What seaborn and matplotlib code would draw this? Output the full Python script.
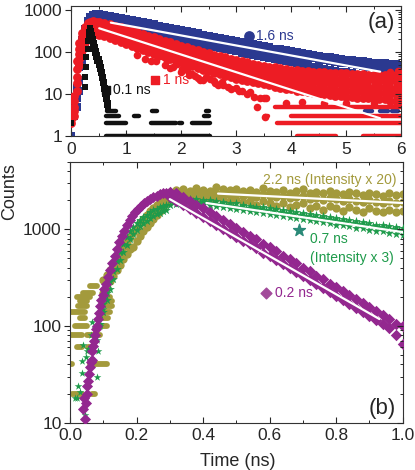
import numpy as np
import pandas as pd
import matplotlib
matplotlib.use("Agg")
import matplotlib.pyplot as plt
import matplotlib.ticker as mticker
import seaborn as sns

# === panel (a): decay traces, 0-6 ns ===
T_A = [0.0, 0.05, 0.1, 0.15, 0.2, 0.25, 0.3, 0.35, 0.4, 0.45, 0.5,
       0.6, 0.7, 0.8, 0.9, 1.0, 1.1, 1.2, 1.3, 1.4, 1.5,
       1.6, 1.7, 1.8, 1.9, 2.0, 2.1, 2.2, 2.3, 2.4, 2.5,
       2.6, 2.7, 2.8, 2.9, 3.0, 3.1, 3.2, 3.3, 3.4, 3.5,
       3.6, 3.7, 3.8, 3.9, 4.0, 4.1, 4.2, 4.3, 4.4, 4.5,
       4.6, 4.7, 4.8, 4.9, 5.0, 5.1, 5.2, 5.3, 5.4, 5.5,
       5.6, 5.7, 5.8, 5.9, 6.0]

blue_hi = [5, 7, 14, 45, 190, 360, 540, 680, 780, 800, 790,
           760, 720, 690, 640, 610, 575, 545, 520, 480, 465,
           420, 398, 375, 350, 332, 312, 292, 278, 258, 240,
           228, 214, 202, 190, 180, 170, 160, 152, 144, 136,
           128, 121, 115, 109, 103, 98, 94, 89, 85, 81,
           78, 75, 72, 69, 66, 64, 62, 60, 58, 56,
           55, 54, 53, 52, 50]
blue_mid = [4, 5, 8, 22, 110, 230, 380, 500, 580, 610, 600,
            575, 545, 515, 485, 460, 432, 410, 385, 365, 342,
            325, 305, 290, 274, 260, 245, 232, 220, 207, 197,
            186, 176, 166, 157, 149, 141, 133, 127, 120, 114,
            108, 102, 97, 92, 88, 83, 79, 75, 71, 68,
            65, 62, 59, 56, 54, 51, 49, 47, 45, 43,
            41, 40, 38, 37, 35]
blue_lo = [1, 3, 5, 12, 55, 140, 250, 350, 420, 450, 445,
           425, 400, 380, 355, 335, 315, 298, 280, 265, 248,
           234, 220, 207, 196, 185, 174, 164, 155, 146, 138,
           130, 123, 116, 109, 103, 97, 92, 86, 81, 77,
           72, 68, 64, 60, 57, 54, 51, 48, 45, 43,
           40, 38, 36, 34, 33, 31, 29, 28, 27, 25,
           24, 23, 22, 21, 20]

red_hi = [4, 9, 60, 160, 290, 400, 480, 530, 540, 530, 520,
          495, 460, 425, 385, 350, 318, 292, 265, 245, 222,
          205, 186, 170, 155, 142, 130, 120, 110, 100, 93,
          86, 80, 74, 69, 64, 60, 57, 53, 50, 47,
          45, 43, 41, 40, 38, 37, 36, 35, 34, 33,
          33, 32, 32, 31, 31, 30, 30, 30, 29, 29,
          29, 28, 28, 28, 28]
red_q1 = [3.5, 7, 40, 120, 230, 330, 405, 450, 460, 450, 440,
          410, 378, 348, 315, 287, 260, 237, 215, 198, 180,
          165, 150, 137, 125, 114, 105, 96, 88, 80, 74,
          69, 63, 58, 54, 50, 47, 45, 42, 40, 37,
          35, 34, 32, 31, 30, 28.5, 27.5, 26.5, 25.5, 25,
          24, 24, 23, 23, 22, 22, 22, 21, 21, 21,
          21, 20.5, 20, 20, 20]
red_mid = [3, 5, 25, 90, 180, 270, 340, 380, 395, 385, 375,
           340, 310, 285, 258, 235, 212, 193, 175, 160, 145,
           132, 120, 110, 100, 92, 84, 77, 70, 64, 59,
           54, 50, 46, 43, 40, 37, 35, 33, 31, 29,
           27, 26, 25, 24, 23, 22, 21, 20, 19, 19,
           18, 18, 17, 17, 16, 16, 16, 15, 15, 15,
           15, 15, 14, 14, 14]
red_q2 = [2.5, 4, 18, 68, 140, 215, 280, 315, 325, 320, 310,
          282, 256, 235, 210, 190, 170, 155, 140, 127, 115,
          105, 95, 87, 79, 72, 66, 60, 55, 50, 46,
          42, 39, 36, 33, 31, 28, 26.5, 25, 23.5, 22,
          21, 20, 19, 18, 17, 16, 15.5, 15, 14, 14,
          13.5, 13, 12.5, 12, 11.5, 11.5, 11, 11, 11, 10.5,
          10.5, 10.5, 10, 10, 10]
red_lo = [2, 3, 12, 50, 110, 170, 230, 260, 270, 265, 255,
          235, 212, 193, 172, 155, 138, 125, 113, 102, 92,
          84, 76, 69, 62, 57, 51, 46, 42, 38, 35,
          32, 30, 27, 25, 23, 21, 20, 19, 18, 17,
          16, 15, 14, 13.5, 13, 12, 11.5, 11, 10.5, 10,
          10, 9.5, 9, 9, 8.5, 8.5, 8, 8, 8, 7.5,
          7.5, 7.5, 7, 7, 7]
red_out_t = [1.55, 1.62, 1.74, 1.85, 1.93, 2.02, 2.1, 2.2, 2.35, 2.45,
             2.53, 2.62, 2.68, 2.77, 2.9, 3.05, 3.2, 3.32, 3.43, 3.5,
             3.55, 3.53, 3.38, 3.9, 4.2, 4.6, 5.0, 5.5, 5.8, 5.95,
             1.2, 1.35, 1.45, 1.7, 1.8, 2.0, 2.15, 2.25, 2.3, 2.4,
             2.6, 2.75, 2.85, 3.0, 3.1, 3.25]
red_out_v = [60, 82, 65, 45, 51, 40, 37, 30, 21.5, 26,
             23, 18, 16, 16, 13, 12, 10, 8.3, 7.9, 8,
             8.2, 2.9, 5, 6, 6.5, 6, 6, 6.2, 33, 35,
             85, 70, 62, 48, 42, 33, 28, 27, 24, 22,
             20, 19, 15, 14, 12, 11]

black_t = [0.0, 0.26, 0.28, 0.30, 0.32, 0.34, 0.36, 0.38, 0.40, 0.42, 0.44, 0.46,
           0.48, 0.50, 0.52, 0.54, 0.56, 0.58, 0.60, 0.62, 0.64, 0.66, 0.68]
black_hi = [2, 25, 75, 180, 300, 370, 310, 250, 205, 165, 132, 106,
            85, 68, 55, 44, 34, 26, 19, 14, 11, 8, 6]
black_lo = [2, 15, 45, 120, 230, 280, 230, 185, 150, 120, 96, 77,
            62, 50, 40, 32, 24, 18, 13.5, 10, 7.5, 5.5, 4.5]

# discrete low-count rows: (counts, t start, t end)
black_rows = [(4, 0.65, 0.82), (4, 1.47, 1.56), (4, 2.45, 2.51),
              (3, 0.63, 0.87), (3, 1.14, 1.23), (3, 2.42, 2.51),
              (2, 0.63, 1.0), (2, 1.45, 1.9), (2, 1.96, 2.02), (2, 2.2, 2.53),
              (1, 0.63, 2.53)]
red_rows = [(8, 3.44, 3.56), (5, 3.7, 6.0), (3, 3.52, 3.58), (3, 4.0, 6.0),
            (2, 3.75, 6.0), (1, 4.1, 4.82), (1, 5.3, 6.0)]
blue_rows = [(4, 5.34, 5.47), (4, 5.61, 5.76), (4, 5.83, 5.94)]

# fitted single exponentials (end points on the plot)
fit_blue_t, fit_blue_v = [0.725, 5.62], [500, 34]
fit_red_t, fit_red_v = [0.513, 5.62], [367, 2.64]

# === panel (b): 0-1 ns ===
T_B = [0.30, 0.32, 0.34, 0.36, 0.38, 0.40, 0.42, 0.44, 0.46,
       0.48, 0.50, 0.52, 0.54, 0.56, 0.58, 0.60, 0.62, 0.64,
       0.66, 0.68, 0.70, 0.72, 0.74, 0.76, 0.78, 0.80, 0.82,
       0.84, 0.86, 0.88, 0.90, 0.92, 0.94, 0.96, 0.98, 1.00]
T_B2 = [0.31, 0.33, 0.35, 0.37, 0.39, 0.41, 0.43, 0.45, 0.47,
        0.49, 0.51, 0.53, 0.55, 0.57, 0.59, 0.61, 0.63, 0.65,
        0.67, 0.69, 0.71, 0.73, 0.75, 0.77, 0.79, 0.81, 0.83,
        0.85, 0.87, 0.89, 0.91, 0.93, 0.95, 0.97, 0.99]

purple_rise_t = [0.040, 0.043, 0.045, 0.047, 0.050, 0.052, 0.055, 0.057, 0.060, 0.062,
                 0.065, 0.067, 0.070, 0.072, 0.075, 0.078, 0.080, 0.083, 0.086, 0.090,
                 0.094, 0.098, 0.103, 0.108, 0.114, 0.120, 0.127, 0.134, 0.141, 0.148,
                 0.155, 0.163, 0.171, 0.179, 0.187, 0.195, 0.204, 0.213, 0.222, 0.231,
                 0.240, 0.250, 0.260, 0.270, 0.280, 0.290]
purple_rise_v = [14, 18, 11, 16, 20, 24, 27, 32, 38, 42,
                 45, 55, 62, 70, 80, 92, 100, 118, 135, 160,
                 185, 210, 240, 270, 320, 380, 450, 530, 630, 740,
                 850, 970, 1100, 1240, 1380, 1500, 1640, 1760, 1870, 1960,
                 2050, 2140, 2220, 2290, 2350, 2400]
purple_hi = [2450, 2350, 2150, 1980, 1800, 1650, 1500, 1370, 1240,
             1130, 1030, 940, 850, 790, 700, 650, 590, 530,
             490, 445, 400, 370, 330, 305, 275, 252, 228,
             208, 192, 172, 158, 142, 130, 118, 106, 100]
purple_lo = [2150, 1960, 1790, 1630, 1480, 1350, 1230, 1120, 1010,
             920, 840, 760, 700, 635, 575, 525, 478, 435,
             395, 360, 328, 298, 272, 247, 225, 205, 187,
             170, 155, 140, 128, 116, 106, 95, 80, 65]

green_early_t = [0.015, 0.02, 0.025, 0.03, 0.035, 0.035, 0.038, 0.045, 0.048, 0.05,
                 0.055, 0.06, 0.062, 0.065, 0.07, 0.075, 0.08, 0.082, 0.085, 0.088,
                 0.09, 0.095, 0.1, 0.105]
green_early_v = [18, 18, 24, 21, 33, 43, 63, 12, 48, 55,
                 58, 44, 80, 110, 70, 95, 30, 72, 55, 120,
                 100, 140, 150, 200]
green_rise_t = [0.09, 0.10, 0.11, 0.12, 0.13, 0.14, 0.15, 0.16, 0.17, 0.18,
                0.19, 0.20, 0.21, 0.22, 0.23, 0.24, 0.25, 0.26, 0.27, 0.28, 0.29]
green_rise_hi = [130, 170, 220, 290, 370, 470, 580, 700, 830, 950,
                 1060, 1150, 1240, 1330, 1420, 1500, 1570, 1640, 1700, 1760, 1800]
green_rise_lo = [105, 140, 185, 240, 305, 385, 480, 580, 690, 800,
                 900, 990, 1070, 1150, 1230, 1300, 1370, 1430, 1490, 1540, 1590]
green_hi = [2000, 2050, 2080, 2060, 2050, 2030, 2000, 1960, 1920,
            1880, 1850, 1800, 1760, 1720, 1690, 1650, 1610, 1580,
            1540, 1500, 1470, 1430, 1400, 1370, 1330, 1300, 1270,
            1240, 1210, 1180, 1150, 1120, 1100, 1070, 1050, 1020]
green_mid = [1900, 1940, 1950, 1940, 1930, 1900, 1870, 1840, 1800,
             1760, 1720, 1680, 1650, 1610, 1580, 1540, 1510, 1470,
             1440, 1410, 1370, 1340, 1310, 1280, 1250, 1220, 1190,
             1160, 1130, 1110, 1080, 1060, 1030, 1010, 980]
green_lo = [1780, 1820, 1840, 1830, 1820, 1810, 1780, 1740, 1700,
            1660, 1620, 1580, 1540, 1500, 1470, 1440, 1400, 1370,
            1330, 1300, 1270, 1240, 1210, 1180, 1150, 1120, 1100,
            1070, 1040, 1020, 990, 970, 950, 920, 900, 880]

olive_rows = [(20, 0.005, 0.035), (20, 0.065, 0.075), (40, 0.0, 0.005), (40, 0.06, 0.11),
              (60, 0.02, 0.035), (60, 0.055, 0.065), (80, 0.0, 0.035), (80, 0.05, 0.09),
              (100, 0.015, 0.05), (100, 0.09, 0.11), (120, 0.03, 0.045), (120, 0.095, 0.115),
              (140, 0.0, 0.045), (140, 0.105, 0.12), (160, 0.025, 0.05), (160, 0.11, 0.125),
              (180, 0.03, 0.05), (180, 0.1, 0.125), (200, 0.02, 0.06), (200, 0.1, 0.12),
              (220, 0.04, 0.07), (260, 0.06, 0.08)]
olive_rise_t = [0.10, 0.11, 0.12, 0.13, 0.14, 0.15, 0.16, 0.17, 0.18, 0.19,
                0.20, 0.21, 0.22, 0.23, 0.24, 0.25, 0.26, 0.27, 0.28, 0.29]
olive_rise_hi = [300, 340, 380, 430, 500, 570, 650, 740, 830, 930,
                 1040, 1150, 1270, 1400, 1530, 1660, 1800, 1950, 2100, 2250]
olive_rise_lo = [220, 250, 290, 330, 380, 430, 490, 560, 630, 650,
                 760, 860, 950, 1050, 1160, 1280, 1400, 1530, 1680, 1850]
olive_hi = [2450, 2550, 2600, 2500, 2650, 2550, 2500, 2750, 2600,
            2550, 2600, 2500, 2550, 2450, 2650, 2500, 2450, 2550,
            2400, 2500, 2600, 2400, 2450, 2350, 2500, 2400, 2300,
            2450, 2350, 2250, 2400, 2300, 2200, 2350, 2250, 2300]
olive_mid = [2200, 2300, 2300, 2250, 2350, 2300, 2250, 2400, 2300,
             2280, 2300, 2200, 2250, 2150, 2300, 2200, 2150, 2200,
             2100, 2150, 2200, 2050, 2100, 2000, 2100, 2050, 1950,
             2050, 1950, 1900, 2000, 1900, 1850, 1950, 1850, 1900]
olive_lo = [1950, 2050, 2100, 2000, 2100, 2050, 2000, 2100, 2050,
            1950, 2000, 1900, 1950, 1800, 1950, 1850, 1750, 1850,
            1700, 1800, 1850, 1650, 1750, 1600, 1750, 1650, 1550,
            1700, 1600, 1500, 1650, 1550, 1500, 1600, 1500, 1550]

fit_olive_t, fit_olive_v = [0.445, 1.0], [2340, 1870]
fit_green_t, fit_green_v = [0.41, 1.0], [1870, 935]
fit_purple_t, fit_purple_v = [0.30, 0.93], [2050, 118]

BLUE, RED, BLACK = "#2B3990", "#ED1C24", "#111111"
OLIVE, GREEN, PURPLE = "#A39A3C", "#1E9B4B", "#93278F"


def band(t, *strands):
    # stack several strands of the same trace into one long table
    return pd.DataFrame({"t": list(t) * len(strands),
                         "counts": [v for s in strands for v in s]})


def dots(ax, df, color, marker, s, z):
    sns.scatterplot(data=df, x="t", y="counts", ax=ax, color=color, marker=marker,
                    s=s, linewidth=0, legend=False, zorder=z)


def rows(ax, table, color, lw, z):
    v, a, b = zip(*table)
    ax.hlines(v, a, b, colors=color, lw=lw, zorder=z, capstyle="round")


def style_axes(ax, ylim, yticks):
    ax.set_yscale("log")
    ax.set_ylim(ylim)
    ax.set(xlabel="", ylabel="")
    ax.yaxis.set_major_locator(mticker.FixedLocator(yticks))
    ax.yaxis.set_major_formatter(mticker.FuncFormatter(lambda v, p: f"{v:g}"))
    ax.yaxis.set_minor_formatter(mticker.NullFormatter())
    ax.tick_params(axis="x", which="both", direction="in", top=True, bottom=True,
                   labelsize=12.5, pad=4)
    ax.tick_params(axis="y", which="both", direction="out", left=True, right=False,
                   labelsize=12.5, pad=2)
    ax.tick_params(which="major", length=4, width=0.8)
    ax.tick_params(which="minor", length=2.5, width=0.7)
    for sp in ax.spines.values():
        sp.set_linewidth(0.8)
        sp.set_color("#333333")
    r = ax.twinx()
    r.set_yscale("log")
    r.set_ylim(ylim)
    r.yaxis.set_major_locator(mticker.FixedLocator(yticks))
    r.yaxis.set_minor_formatter(mticker.NullFormatter())
    r.tick_params(axis="y", which="both", direction="in", labelright=False)
    r.tick_params(which="major", length=4, width=0.8)
    r.tick_params(which="minor", length=2.5, width=0.7)
    for sp in r.spines.values():
        sp.set_visible(False)


sns.set_style("ticks")
plt.rcParams["font.family"] = ["Liberation Sans", "DejaVu Sans"]

fig = plt.figure(figsize=(4.15, 4.70), dpi=100)
ax_a = fig.add_axes([71 / 415, 1 - 136 / 470, 330 / 415, 130.5 / 470])
ax_b = fig.add_axes([70 / 415, 1 - 422.7 / 470, 332.7 / 415, 261 / 470])

# === 1. panel (a) ===
ax_a.set_yscale("log")
dots(ax_a, band(T_A, blue_hi, blue_mid, blue_lo), BLUE, "s", 36, 2)
rows(ax_a, blue_rows, BLUE, 3.2, 2)
dots(ax_a, band(T_A, red_hi, red_q1, red_mid, red_q2, red_lo), RED, "o", 40, 3)
dots(ax_a, pd.DataFrame({"t": red_out_t, "counts": red_out_v}), RED, "o", 30, 3)
rows(ax_a, red_rows, RED, 3.2, 3)
dots(ax_a, band(black_t, black_hi, black_lo), BLACK, "s", 22, 4)
rows(ax_a, black_rows, BLACK, 3.2, 4)
ax_a.plot(fit_blue_t, fit_blue_v, color="white", lw=1.6, zorder=5)
ax_a.plot(fit_red_t, fit_red_v, color="white", lw=1.6, zorder=5)

ax_a.scatter([3.24], [240], marker="o", s=45, color=BLUE, zorder=6)
ax_a.text(3.36, 245, "1.6 ns", color=BLUE, fontsize=10, va="center")
ax_a.scatter([1.53], [21.5], marker="s", s=36, color=RED, zorder=6)
ax_a.text(1.67, 21.5, "1 ns", color=RED, fontsize=10, va="center")
ax_a.scatter([0.64], [12.4], marker="s", s=36, color=BLACK, zorder=6)
ax_a.text(0.76, 12.4, "0.1 ns", color=BLACK, fontsize=10, va="center")
ax_a.text(0.94, 0.866, "(a)", transform=ax_a.transAxes, fontsize=16,
          ha="center", va="center")

ax_a.set_xlim(0, 6)
ax_a.xaxis.set_major_locator(mticker.MultipleLocator(1))
ax_a.xaxis.set_minor_locator(mticker.MultipleLocator(0.5))
style_axes(ax_a, (1, 1280), [1, 10, 100, 1000])

# === 2. panel (b) ===
ax_b.set_yscale("log")
rows(ax_b, olive_rows, OLIVE, 4.2, 2)
dots(ax_b, band(olive_rise_t, olive_rise_hi, olive_rise_lo), OLIVE, "o", 36, 2)
dots(ax_b, band(T_B, olive_hi, olive_mid, olive_lo), OLIVE, "o", 36, 2)
dots(ax_b, pd.DataFrame({"t": green_early_t, "counts": green_early_v}), GREEN, "*", 34, 3)
dots(ax_b, band(green_rise_t, green_rise_hi, green_rise_lo), GREEN, "*", 44, 3)
dots(ax_b, band(T_B, green_hi, green_lo), GREEN, "*", 44, 3)
dots(ax_b, band(T_B2, green_mid), GREEN, "*", 44, 3)
dots(ax_b, pd.DataFrame({"t": purple_rise_t, "counts": purple_rise_v}), PURPLE, "D", 32, 4)
dots(ax_b, band(T_B, purple_hi, purple_lo), PURPLE, "D", 34, 4)
for ft, fv in [(fit_olive_t, fit_olive_v), (fit_green_t, fit_green_v),
               (fit_purple_t, fit_purple_v)]:
    ax_b.plot(ft, fv, color="white", lw=1.6, zorder=5)

ax_b.text(0.982, 3260, "2.2 ns (Intensity x 20)", color=OLIVE, fontsize=10,
          ha="right", va="center")
ax_b.scatter([0.688], [975], marker="*", s=80, color="#2A8A78", zorder=6)
ax_b.text(0.72, 789, "0.7 ns", color=GREEN, fontsize=10, va="center")
ax_b.text(0.72, 509, "(Intensity x 3)", color=GREEN, fontsize=10, va="center")
ax_b.scatter([0.59], [217], marker="D", s=30, color="#A24A9A", zorder=6)
ax_b.text(0.615, 217, "0.2 ns", color=PURPLE, fontsize=10, va="center")
ax_b.text(0.938, 0.056, "(b)", transform=ax_b.transAxes, fontsize=16,
          ha="center", va="center")

ax_b.set_xlim(0, 1.0)
ax_b.xaxis.set_major_locator(mticker.MultipleLocator(0.2))
ax_b.xaxis.set_minor_locator(mticker.MultipleLocator(0.1))
ax_b.xaxis.set_major_formatter(mticker.FormatStrFormatter("%.1f"))
style_axes(ax_b, (10, 5000), [10, 100, 1000])

fig.text(9.5 / 415, 1 - 192 / 470, "Counts", rotation=90, fontsize=13,
         ha="center", va="center")
fig.text(238 / 415, 1 - 461 / 470, "Time (ns)", fontsize=13, ha="center", va="center")

fig.savefig("out.png", dpi=100)
